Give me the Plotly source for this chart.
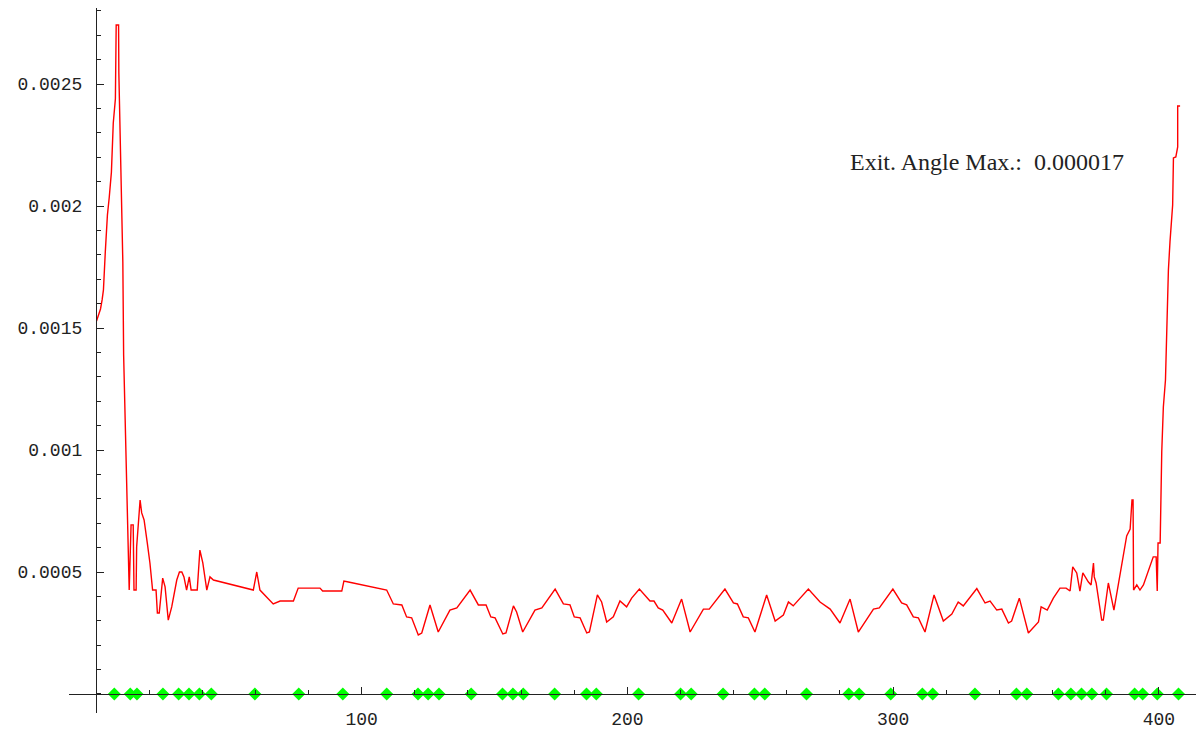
import plotly.graph_objects as go

# red curve vertices (x, y)
curve_x = [0.2, 0.9, 1.7, 2.3, 2.8, 3.5, 4.3, 5.0, 5.8, 6.5, 7.3, 7.6, 8.5, 8.6, 9.3, 10.1, 10.4,
           11.3, 12.2, 12.5, 13.2, 14.0, 14.3, 15.1, 15.3, 15.9, 16.6, 17.2, 18.1, 19.3, 20.3,
           21.3, 22.6, 23.1, 23.8, 25.1, 26.0, 27.2, 28.5, 30.4, 31.4, 32.3, 33.1, 34.1, 35.1,
           35.8, 38.1, 39.1, 40.2, 41.7, 42.9, 44.2, 59.2, 60.5, 61.7, 66.7, 69.3, 74.3, 76.1,
           84.3, 85.3, 92.5, 93.3, 95.0, 109.4, 111.9, 115.1, 116.9, 118.8, 121.3, 122.6, 125.7,
           128.8, 133.2, 135.8, 140.8, 143.9, 146.8, 148.6, 150.2, 153.1, 154.3, 157.1, 158.3,
           160.6, 165.2, 167.8, 172.8, 175.9, 178.4, 180.0, 182.2, 184.7, 185.7, 188.7, 190.3,
           192.2, 194.7, 197.2, 199.7, 201.6, 204.5, 208.5, 210.0, 211.6, 213.3, 216.7, 220.4,
           223.6, 228.6, 230.8, 236.7, 239.9, 241.4, 243.6, 245.5, 248.0, 252.4, 255.6, 258.7,
           260.6, 262.4, 268.1, 272.5, 276.3, 280.0, 283.8, 286.9, 292.6, 294.8, 299.9, 303.2,
           305.1, 307.6, 309.5, 312.0, 315.4, 318.9, 322.1, 324.5, 326.4, 331.5, 334.6, 336.5,
           339.0, 340.9, 343.4, 344.6, 347.5, 350.9, 354.7, 355.7, 358.0, 360.3, 362.8, 365.1,
           366.6, 367.6, 369.1, 370.3, 371.4, 373.5, 374.5, 375.4, 375.7, 376.4, 378.5, 379.1,
           381.0, 383.1, 384.8, 386.6, 387.9, 389.2, 389.9, 390.3, 390.5, 391.7, 392.9, 394.2,
           397.9, 399.0, 399.2, 399.4, 399.7, 400.5, 401.1, 401.7, 402.5, 403.0, 403.3, 403.6,
           404.2, 405.2, 405.5, 406.4, 407.1, 407.1, 408.0]
curve_y = [0.001529, 0.001549, 0.001578, 0.001615, 0.001656, 0.001812, 0.001963, 0.002037,
           0.002139, 0.002340, 0.002439, 0.002742, 0.002742, 0.002545, 0.002156, 0.001771,
           0.001389, 0.001000, 0.000619, 0.000426, 0.000693, 0.000693, 0.000426, 0.000426,
           0.000603, 0.000684, 0.000795, 0.000742, 0.000713, 0.000619, 0.000537, 0.000426,
           0.000426, 0.000332, 0.000332, 0.000475, 0.000439, 0.000303, 0.000357, 0.000467,
           0.000500, 0.000500, 0.000480, 0.000426, 0.000480, 0.000426, 0.000426, 0.000590,
           0.000537, 0.000426, 0.000480, 0.000467, 0.000426, 0.000500, 0.000426, 0.000369,
           0.000381, 0.000381, 0.000434, 0.000434, 0.000422, 0.000422, 0.000463, 0.000459,
           0.000426, 0.000369, 0.000365, 0.000316, 0.000312, 0.000242, 0.000250, 0.000365,
           0.000254, 0.000344, 0.000353, 0.000426, 0.000365, 0.000365, 0.000316, 0.000312,
           0.000246, 0.000250, 0.000361, 0.000336, 0.000254, 0.000344, 0.000353, 0.000430,
           0.000369, 0.000365, 0.000316, 0.000312, 0.000250, 0.000254, 0.000406, 0.000377,
           0.000295, 0.000316, 0.000381, 0.000357, 0.000393, 0.000430, 0.000381, 0.000381,
           0.000353, 0.000344, 0.000291, 0.000389, 0.000254, 0.000348, 0.000348, 0.000430,
           0.000373, 0.000369, 0.000316, 0.000312, 0.000254, 0.000406, 0.000299, 0.000324,
           0.000377, 0.000361, 0.000430, 0.000377, 0.000348, 0.000291, 0.000389, 0.000254,
           0.000348, 0.000353, 0.000430, 0.000373, 0.000365, 0.000316, 0.000312, 0.000254,
           0.000406, 0.000299, 0.000328, 0.000377, 0.000361, 0.000432, 0.000373, 0.000381,
           0.000344, 0.000348, 0.000291, 0.000299, 0.000393, 0.000250, 0.000295, 0.000357,
           0.000344, 0.000393, 0.000434, 0.000434, 0.000422, 0.000521, 0.000496, 0.000422,
           0.000496, 0.000459, 0.000447, 0.000537, 0.000480, 0.000455, 0.000303, 0.000303,
           0.000455, 0.000344, 0.000447, 0.000562, 0.000648, 0.000676, 0.000795, 0.000795,
           0.000426, 0.000447, 0.000426, 0.000447, 0.000562, 0.000562, 0.000422, 0.000422,
           0.000619, 0.000619, 0.000992, 0.001176, 0.001287, 0.001521, 0.001615, 0.001738,
           0.001853, 0.002004, 0.002197, 0.002201, 0.002242, 0.002410, 0.002410]

# green diamond positions along the x axis
node_x = [6.9, 12.9, 15.4, 25.2, 31.1, 35.0, 38.9, 43.4, 59.8, 76.3, 92.9, 109.4, 121.2,
          125.0, 129.1, 141.2, 153.0, 156.9, 160.8, 172.6, 184.6, 188.3, 204.2, 220.0,
          224.0, 236.0, 247.8, 251.7, 267.4, 283.3, 287.2, 299.1, 311.0, 314.9, 330.8,
          346.4, 350.3, 362.2, 366.9, 370.9, 374.8, 380.3, 390.9, 393.9, 399.4, 407.4]
node_y = [0.0] * len(node_x)

x_tick_vals = [100, 200, 300, 400]
x_tick_text = ["100", "200", "300", "400"]
y_tick_vals = [0.0005, 0.001, 0.0015, 0.002, 0.0025]
y_tick_text = ["0.0005", "0.001", "0.0015", "0.002", "0.0025"]

annotation_text = "Exit. Angle Max.:  0.000017"

axis_color = "#222222"
tick_font = dict(family="Liberation Mono", size=18, color="#222222")

fig = go.Figure()
fig.add_trace(go.Scatter(x=curve_x, y=curve_y, mode="lines",
                         line=dict(color="#FF0000", width=1.4), hoverinfo="skip",
                         showlegend=False))
fig.add_trace(go.Scatter(x=node_x, y=node_y, mode="markers",
                         marker=dict(symbol="diamond", size=10, color="#00FF00",
                                     line=dict(width=0)),
                         cliponaxis=False, showlegend=False))

fig.add_annotation(x=283.0, y=0.00218, xref="x", yref="y", text=annotation_text,
                   showarrow=False, xanchor="left", yanchor="middle",
                   font=dict(family="Liberation Serif", size=24, color="#222222"))

# the page body adds an 8px offset, so the figure is 8px smaller than the window
W, H = 1196, 722
left, right, top, bottom = 61, 0, 0, 17
pw, ph = W - left - right, H - top - bottom

fig.update_layout(
    width=W, height=H,
    margin=dict(l=left, r=right, t=top, b=bottom, pad=0),
    paper_bgcolor="white", plot_bgcolor="white",
    showlegend=False,
    xaxis=dict(range=[-10.16, 417.0], anchor="free", position=19 / ph,
               showgrid=False, zeroline=False, showline=True, linecolor=axis_color,
               linewidth=1.3, ticks="inside", ticklen=7, tickwidth=1.2,
               tickcolor=axis_color, tickmode="array", tickvals=x_tick_vals,
               ticktext=x_tick_text, tickfont=tick_font, ticklabelstandoff=8,
               minor=dict(ticks="inside", dtick=20, tick0=0, ticklen=4,
                          tickwidth=1.2, tickcolor=axis_color, showgrid=False),
               automargin=False),
    yaxis=dict(range=[-7.79e-5, 0.0028115], anchor="free", position=27 / pw,
               showgrid=False, zeroline=False, showline=True, linecolor=axis_color,
               linewidth=1.3, ticks="inside", ticklen=7, tickwidth=1.2,
               tickcolor=axis_color, tickmode="array", tickvals=y_tick_vals,
               ticktext=y_tick_text, tickfont=tick_font, ticklabelstandoff=10,
               minor=dict(ticks="inside", dtick=0.0001, tick0=0, ticklen=4,
                          tickwidth=1.2, tickcolor=axis_color, showgrid=False),
               automargin=False),
)

fig.write_html("out.html")
